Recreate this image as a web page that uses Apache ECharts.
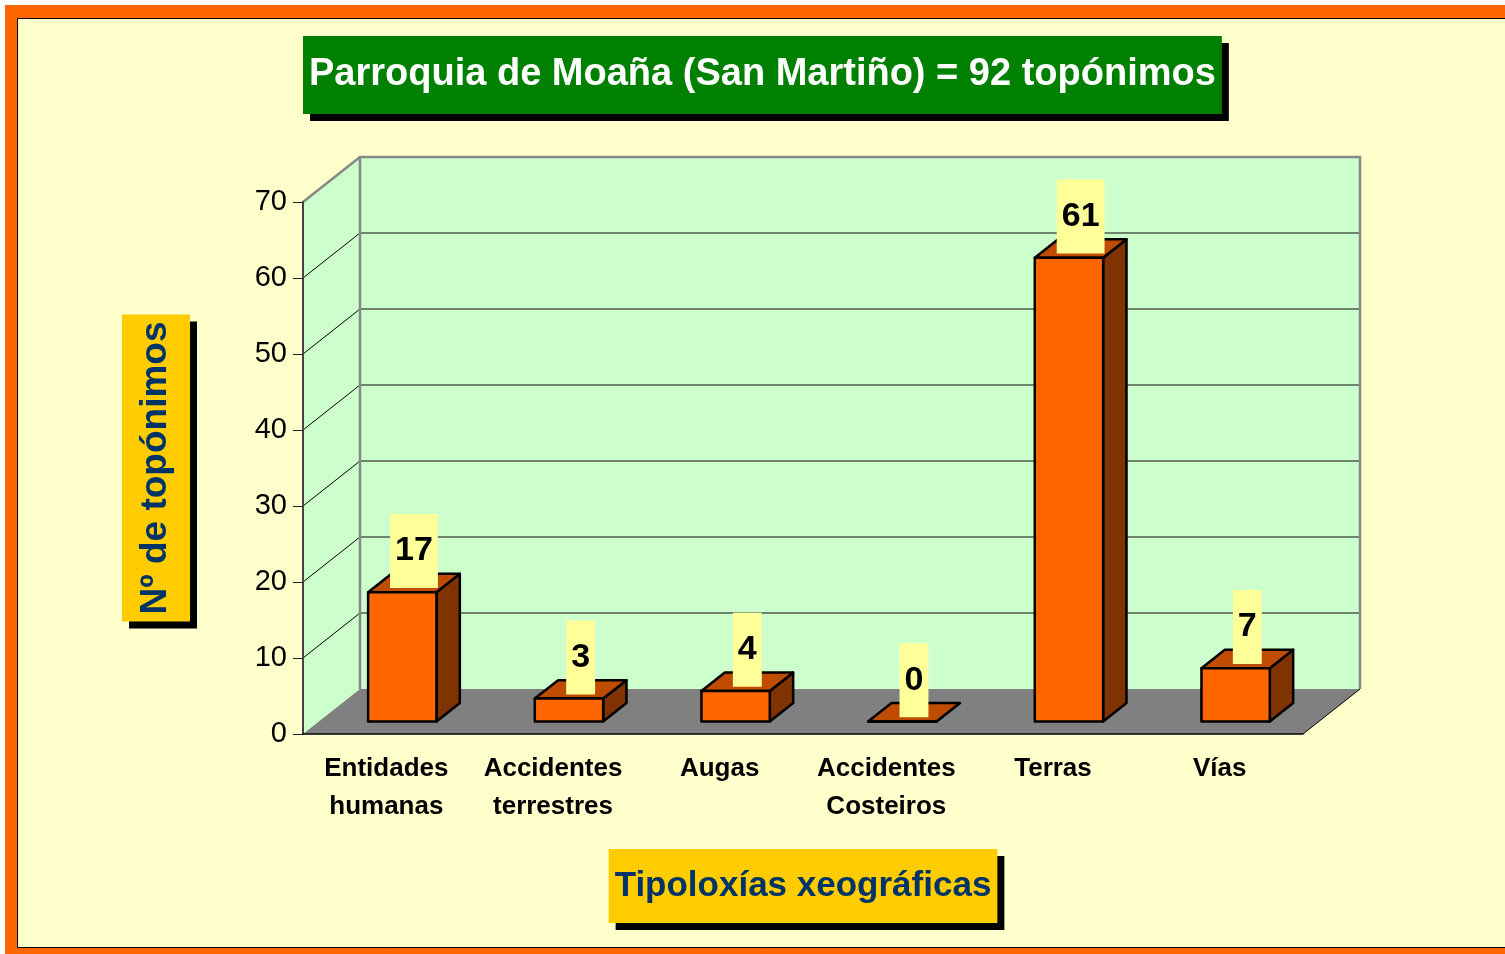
<!DOCTYPE html>
<html>
<head>
<meta charset="utf-8">
<title>Parroquia de Moaña (San Martiño)</title>
<script src="https://cdn.jsdelivr.net/npm/echarts@6/dist/echarts.min.js"></script>
<style>
  html, body { margin: 0; padding: 0; background: #fff; }
  #chart { width: 1505px; height: 954px; }
</style>
</head>
<body>
<div id="chart"></div>
<script>
  var categories = ['Entidades\nhumanas', 'Accidentes\nterrestres', 'Augas', 'Accidentes\nCosteiros', 'Terras', 'Vías'];
  var values = [17, 3, 4, 0, 61, 7];
  var yTicks = [0, 10, 20, 30, 40, 50, 60, 70];

  var DX = 57, DY = 45; // fondo da perspectiva
  var FONT = '"Liberation Sans", Arial, sans-serif';

  var myChart = echarts.init(document.getElementById('chart'));

  // paredes, chan e liñas de grella
  function walls(params, api) {
    var bw = api.size([1, 0])[0];
    var yMax = yTicks[yTicks.length - 1];
    var x0 = api.coord([0, 0])[0] - bw / 2;
    var x1 = api.coord([categories.length - 1, 0])[0] + bw / 2;
    var yb = api.coord([0, 0])[1];
    var yt = api.coord([0, yMax])[1];
    var children = [
      { type: 'polygon', shape: { points: [[x0, yb], [x0, yt], [x0 + DX, yt - DY], [x0 + DX, yb - DY]] }, style: { fill: '#CCFFCC' } },
      { type: 'rect', shape: { x: x0 + DX, y: yt - DY, width: x1 - x0, height: yb - yt }, style: { fill: '#CCFFCC' } },
      { type: 'polygon', shape: { points: [[x0, yb], [x1, yb], [x1 + DX, yb - DY], [x0 + DX, yb - DY]] }, style: { fill: '#808080' } }
    ];
    yTicks.forEach(function (v) {
      if (v === 0 || v === yMax) return;
      var y = api.coord([0, v])[1];
      children.push({ type: 'line', shape: { x1: x0 + DX, y1: y - DY, x2: x1 + DX, y2: y - DY }, style: { stroke: '#4d5d4d', lineWidth: 1.5 } });
      children.push({ type: 'line', shape: { x1: x0, y1: y, x2: x0 + DX, y2: y - DY }, style: { stroke: '#000', lineWidth: 1 } });
    });
    children.push({ type: 'polyline', shape: { points: [[x0, yt], [x0 + DX, yt - DY], [x1 + DX, yt - DY], [x1 + DX, yb - DY]] }, style: { stroke: '#888', lineWidth: 2.5, fill: null } });
    children.push({ type: 'line', shape: { x1: x0 + DX, y1: yt - DY, x2: x0 + DX, y2: yb - DY }, style: { stroke: '#888', lineWidth: 2.5 } });
    children.push({ type: 'line', shape: { x1: x1, y1: yb, x2: x1 + DX, y2: yb - DY }, style: { stroke: '#000', lineWidth: 1 } });
    return { type: 'group', children: children };
  }

  // barra en 3D con etiqueta
  function bar3d(params, api) {
    var i = api.value(0), v = api.value(1);
    var bw = api.size([1, 0])[0];
    var w = bw * 0.41;
    var f = 0.28, b = 0.69;
    var c = api.coord([i, 0]), t = api.coord([i, v]);
    var l = c[0] - w / 2 + DX * f, r = l + w;
    var yb = c[1] - DY * f, ytp = t[1] - DY * f;
    var sx = DX * (b - f), sy = DY * (b - f);
    var edge = { stroke: '#000', lineWidth: 2.5, lineJoin: 'round' };
    return {
      type: 'group',
      children: [
        { type: 'polygon', shape: { points: [[r, ytp], [r + sx, ytp - sy], [r + sx, yb - sy], [r, yb]] }, style: Object.assign({ fill: '#7F3300' }, edge) },
        { type: 'polygon', shape: { points: [[l, ytp], [l + sx, ytp - sy], [r + sx, ytp - sy], [r, ytp]] }, style: Object.assign({ fill: '#BF4C00' }, edge) },
        { type: 'rect', shape: { x: l, y: ytp, width: w, height: yb - ytp }, style: Object.assign({ fill: '#FF6600' }, edge) },
        {
          type: 'text', x: (l + r + sx) / 2, y: ytp - sy / 2 + 5,
          style: {
            text: String(v), align: 'center', verticalAlign: 'bottom',
            fontSize: 34, fontWeight: 'bold', fontFamily: FONT, fill: '#000',
            lineHeight: 34, backgroundColor: '#FFFF99', padding: [20, 5]
          }
        }
      ]
    };
  }

  var option = {
    animation: false,
    backgroundColor: '#fff',
    textStyle: { fontFamily: FONT },
    graphic: [
      { type: 'rect', z: -100, shape: { x: 5, y: 5, width: 1520, height: 1000 }, style: { fill: '#FF6600' } },
      { type: 'rect', z: -100, shape: { x: 17.5, y: 18.5, width: 1510, height: 929 }, style: { fill: '#FFFFCC', stroke: '#000', lineWidth: 1 } }
    ],
    title: {
      text: 'Parroquia de Moaña (San Martiño) = 92 topónimos',
      left: 303,
      top: 36,
      padding: [20, 6],
      backgroundColor: '#008000',
      shadowColor: '#000',
      shadowOffsetX: 7,
      shadowOffsetY: 7,
      textStyle: { color: '#fff', fontSize: 38, fontWeight: 'bold', lineHeight: 38, fontFamily: FONT }
    },
    grid: { left: 303, right: 202, top: 202, bottom: 220 },
    xAxis: {
      type: 'category',
      data: categories,
      name: 'Tipoloxías xeográficas',
      nameLocation: 'middle',
      nameGap: 115,
      nameTextStyle: {
        fontSize: 35, fontWeight: 'bold', color: '#003366', lineHeight: 40, fontFamily: FONT,
        backgroundColor: '#FFCC00', padding: [17, 6],
        shadowColor: '#000', shadowOffsetX: 7, shadowOffsetY: 7
      },
      axisLine: { lineStyle: { color: '#000', width: 1.5 } },
      axisTick: { length: 10, lineStyle: { color: '#555' } },
      axisLabel: { interval: 0, margin: 16, fontSize: 26, fontWeight: 'bold', color: '#000', lineHeight: 38 }
    },
    yAxis: {
      type: 'value',
      min: yTicks[0],
      max: yTicks[yTicks.length - 1],
      interval: 10,
      name: 'Nº de topónimos',
      nameLocation: 'middle',
      nameRotate: 90,
      nameGap: 113,
      nameTextStyle: {
        fontSize: 37, fontWeight: 'bold', color: '#003366', lineHeight: 40, fontFamily: FONT,
        backgroundColor: '#FFCC00', padding: [14, 7],
        shadowColor: '#000', shadowOffsetX: 7, shadowOffsetY: 7
      },
      axisLine: { show: true, lineStyle: { color: '#444', width: 2 } },
      axisTick: { show: true, length: 10, lineStyle: { color: '#222' } },
      axisLabel: { margin: 16, fontSize: 29, color: '#000' },
      splitLine: { show: false }
    },
    series: [
      { type: 'custom', name: 'walls', z: -1, silent: true, clip: false, renderItem: walls, data: [[0, 0]] },
      { type: 'custom', name: 'Topónimos', z: 2, clip: false, renderItem: bar3d, data: values.map(function (v, i) { return [i, v]; }) }
    ]
  };

  myChart.setOption(option);
</script>
</body>
</html>
